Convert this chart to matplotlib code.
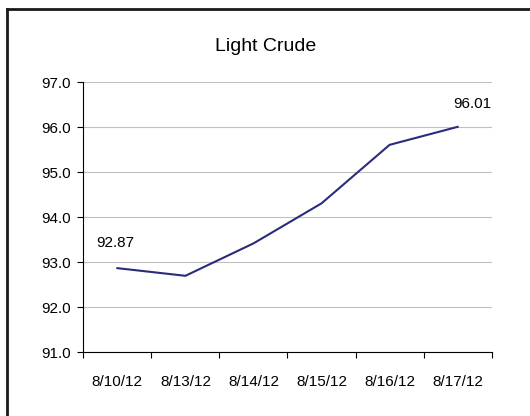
import matplotlib.pyplot as plt
from matplotlib.lines import Line2D

# Dados do grafico
datas = ['8/10/12', '8/13/12', '8/14/12', '8/15/12', '8/16/12', '8/17/12']
precos = [92.87, 92.70, 93.42, 94.31, 95.61, 96.01]
yticks = [91.0, 92.0, 93.0, 94.0, 95.0, 96.0, 97.0]

plt.rcParams['font.family'] = ['Liberation Sans', 'DejaVu Sans']

fig = plt.figure(figsize=(5.30, 4.16), dpi=100)
ax = fig.add_axes([0.1572, 0.1531, 0.7705, 0.6491])

x = [i + 0.5 for i in range(len(datas))]
ax.plot(x, precos, color='#2b2b7b', linewidth=1.5, solid_joinstyle='miter')

# Rotulos do primeiro e ultimo ponto
ax.annotate('%.2f' % precos[0], (x[0], precos[0]), xytext=(-1.4, 18.4),
            textcoords='offset points', ha='center', va='center', fontsize=11)
ax.annotate('%.2f' % precos[-1], (x[-1], precos[-1]), xytext=(10.5, 16.5),
            textcoords='offset points', ha='center', va='center', fontsize=11)

ax.set_xlim(0, len(datas))
ax.set_ylim(yticks[0], yticks[-1])
ax.set_yticks(yticks)
ax.set_yticklabels(['%.1f' % v for v in yticks], fontsize=11)
ax.set_xticks(range(len(datas) + 1))
ax.set_xticklabels([])
ax.set_xticks(x, minor=True)
ax.set_xticklabels(datas, minor=True, fontsize=11)
ax.tick_params(axis='x', which='minor', length=0, pad=16)
ax.tick_params(axis='both', which='major', length=4, width=0.8, color='black')
ax.tick_params(axis='y', pad=5)

ax.grid(axis='y', color='#c0c0c0', linewidth=0.8)
ax.set_axisbelow(True)
for s in ['top', 'right']:
    ax.spines[s].set_visible(False)
for s in ['left', 'bottom']:
    ax.spines[s].set_linewidth(0.8)

fig.text(0.5015, 0.889, 'Light Crude', ha='center', va='center', fontsize=14)

# Moldura (apenas topo e esquerda visiveis)
fig.add_artist(Line2D([7/530, 1], [1 - 9/416, 1 - 9/416], color='#1a1a1a', linewidth=2))
fig.add_artist(Line2D([7/530, 7/530], [0, 1 - 9/416], color='#1a1a1a', linewidth=2))

fig.savefig('out.png', dpi=100)
